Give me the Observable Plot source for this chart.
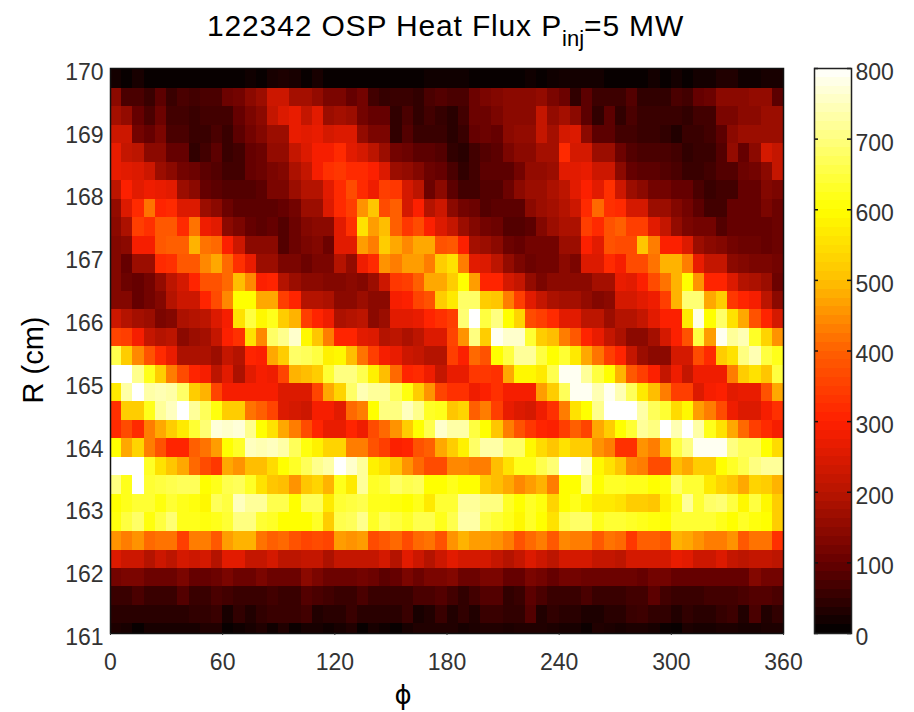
<!DOCTYPE html>
<html>
<head>
<meta charset="utf-8">
<script src="https://cdn.jsdelivr.net/npm/d3@7"></script>
<script src="https://cdn.jsdelivr.net/npm/@observablehq/plot@0.6"></script>
<style>
html,body{margin:0;padding:0;background:#fff;}
#wrap{position:relative;width:914px;height:712px;overflow:hidden;font-family:"Liberation Sans",sans-serif;}
#wrap svg{position:absolute;left:0;top:0;background:transparent;}
#title{position:absolute;left:207px;top:8px;font-size:30px;line-height:36px;letter-spacing:0.85px;color:#000;z-index:3;white-space:nowrap;}
#title sub{font-size:22px;line-height:0;letter-spacing:0;vertical-align:-10px;}
</style>
</head>
<body>
<div id="wrap"><div id="title">122342 OSP Heat Flux P<sub>inj</sub>=5 MW</div></div>
<script>
const xLabel = "ϕ", yLabel = "R (cm)";
const phiTicks = [0,60,120,180,240,300,360];
const rTicks = [161,162,163,164,165,166,167,168,169,170];
const barTicks = [0,100,200,300,400,500,600,700,800];
// Row edges in R (cm), top to bottom
const rEdges = [170,169.68,169.39,169.10,168.80,168.51,168.21,167.92,167.63,167.33,167.04,166.74,166.45,166.16,165.86,165.57,165.27,164.98,164.69,164.39,164.10,163.80,163.51,163.22,162.92,162.63,162.33,162.04,161.75,161.45,161.16,161];
const phiEdges = [0,6,12,18,24,30,36,42,48,54,60,66,72,78,84,90,96,102,108,114,120,126,132,138,144,150,156,162,168,174,180,186,192,198,204,210,216,222,228,234,240,246,252,258,264,270,276,282,288,294,300,306,312,318,324,330,336,342,348,354,360];
// Colour-read heat flux per row, top to bottom, 60 values by phi
const row00=[25,10,30,10,10,10,10,10,10,10,10,10,20,10,30,35,30,10,30,10,10,10,10,10,10,10,10,10,20,20,20,20,10,10,10,10,10,20,10,20,25,25,25,25,10,10,10,10,25,10,25,10,25,25,40,40,20,20,30,30];
const row01=[170,90,90,70,110,70,90,80,90,90,130,140,170,190,250,250,200,200,180,150,150,120,140,80,65,70,70,60,90,100,90,90,130,150,160,170,170,170,180,150,130,60,110,75,75,75,100,60,60,60,90,80,120,130,170,170,170,180,180,110];
const row02=[200,180,120,90,130,80,80,70,80,80,80,120,150,170,240,270,290,240,280,190,200,190,140,120,120,60,90,60,80,65,50,80,130,130,150,170,170,170,240,180,200,170,110,60,110,60,90,70,70,70,70,60,80,80,150,150,170,170,190,190];
const row03=[250,250,140,120,150,90,90,70,70,90,70,110,140,160,190,190,290,280,290,260,270,270,180,150,150,60,100,70,70,70,50,70,120,130,120,170,180,180,240,200,260,270,170,110,110,80,80,70,70,60,40,70,70,80,110,170,190,190,190,190];
const row04=[290,240,230,170,170,120,120,60,80,110,70,80,120,130,180,180,240,270,310,310,340,280,260,230,190,140,130,110,110,100,60,50,80,100,110,150,170,170,200,200,340,260,260,190,190,130,100,90,90,90,80,60,70,70,100,180,120,170,260,240];
const row05=[290,280,270,250,190,170,140,130,110,100,80,80,120,130,150,160,210,240,310,350,360,340,340,320,270,190,180,160,130,120,90,60,80,110,110,110,140,180,180,190,280,280,290,250,250,170,120,110,110,100,90,70,70,80,100,100,130,140,170,240];
const row06=[230,320,280,300,290,280,190,170,120,110,100,100,100,110,150,150,190,220,220,280,340,390,340,300,370,360,260,230,130,170,110,80,80,100,100,130,170,190,190,210,230,280,320,280,350,250,190,170,140,140,120,120,90,70,80,80,120,120,160,150];
const row07=[180,270,340,440,330,340,270,270,190,170,130,110,110,110,110,120,140,190,190,270,340,370,470,520,390,420,260,320,220,250,170,140,130,100,110,110,110,170,190,200,220,250,340,430,350,340,260,260,190,190,160,140,110,80,80,120,120,120,150,130];
const row08=[170,210,370,350,410,410,340,440,300,280,170,150,120,110,120,100,130,160,170,170,280,350,560,480,510,420,360,390,320,270,240,190,160,140,130,100,100,110,160,190,210,210,370,340,400,420,370,370,280,240,180,150,140,140,100,120,120,120,120,130];
const row09=[160,170,310,310,410,420,420,500,440,430,320,250,170,170,170,100,130,150,160,130,280,280,480,450,530,490,460,490,490,400,410,320,200,190,170,130,120,140,140,140,190,190,320,280,400,390,390,520,450,320,320,270,190,170,160,140,130,130,120,130];
const row10=[160,120,190,190,340,350,410,410,460,490,430,350,290,190,190,150,150,130,150,150,220,180,300,340,470,450,480,480,450,530,560,450,280,270,230,180,150,130,140,140,170,150,270,270,340,310,390,390,440,500,500,450,290,240,240,170,160,150,150,140];
const row11=[160,130,120,140,180,230,260,330,400,400,430,510,460,320,330,220,190,170,170,160,160,170,160,190,250,360,370,420,490,490,530,600,480,330,330,260,240,180,150,170,170,170,170,200,200,290,280,320,390,440,500,600,470,330,330,270,220,210,190,130];
const row12=[160,160,120,140,160,220,250,250,330,390,460,600,600,490,490,370,330,220,220,210,170,170,190,170,170,310,320,380,400,530,570,680,680,530,520,450,370,280,240,210,200,200,180,160,170,260,260,280,300,370,500,690,690,490,530,360,330,310,230,170];
const row13=[250,220,200,190,150,160,210,220,230,270,310,560,650,590,620,530,500,370,330,300,210,220,230,170,190,280,280,290,330,350,370,690,800,650,700,600,540,390,370,340,280,280,230,230,190,220,220,240,280,320,320,570,780,600,680,560,490,400,330,260];
const row14=[380,370,310,240,220,230,170,190,200,240,320,350,560,460,680,710,760,590,520,450,330,330,280,270,220,230,210,230,270,270,380,470,700,530,790,760,760,640,530,510,450,410,330,290,240,210,170,170,200,260,320,400,650,480,790,720,740,630,540,470];
const row15=[660,530,460,400,340,290,210,210,210,190,240,220,330,320,490,530,680,670,650,580,590,510,440,370,310,290,250,240,220,220,370,320,430,400,600,650,720,720,650,600,640,570,490,440,370,330,240,190,170,170,260,260,390,340,530,560,700,740,650,620];
const row16=[800,800,710,620,530,450,390,330,310,230,280,210,280,310,300,380,500,510,530,640,700,700,660,580,510,430,330,340,300,240,290,290,360,360,350,490,590,590,570,660,790,790,720,650,600,500,410,370,320,240,300,240,300,300,300,450,530,560,520,650];
const row17=[570,730,800,730,740,730,680,530,500,380,310,310,310,310,310,270,270,270,380,490,540,680,740,720,720,670,610,530,470,380,350,350,300,320,350,310,310,310,480,530,670,790,790,740,790,740,670,570,510,450,370,370,270,310,320,280,290,290,400,490];
const row18=[350,530,530,620,720,750,800,720,670,610,530,530,440,420,380,270,260,250,310,310,280,430,450,600,700,700,750,710,630,620,520,540,420,450,370,290,270,260,300,350,450,560,600,710,800,800,800,730,670,640,550,590,480,450,390,300,270,270,310,350];
const row19=[340,390,340,450,490,530,570,640,690,770,760,770,710,600,560,490,450,390,330,290,290,330,300,390,430,470,530,600,660,760,730,730,650,600,520,450,400,360,330,320,370,420,380,490,530,600,640,720,700,800,740,800,730,620,560,490,430,370,340,310];
const row20=[600,490,540,450,400,330,330,420,440,480,600,630,750,740,750,730,670,610,580,540,540,450,450,400,370,320,330,400,420,490,530,580,680,730,730,680,680,590,550,520,560,530,530,470,450,350,350,470,450,510,650,700,790,790,790,700,670,670,600,550];
const row21=[800,800,800,630,560,520,490,430,390,360,490,470,510,510,550,600,630,670,710,730,800,760,720,580,560,520,470,430,390,390,460,460,450,450,510,560,620,620,660,690,800,800,760,590,560,520,460,450,390,390,510,490,530,530,600,630,660,700,720,720];
const row22=[700,620,800,640,650,660,670,670,600,620,660,670,630,560,520,510,470,520,540,500,620,570,720,630,640,680,660,670,600,600,620,600,600,530,510,490,460,480,500,450,600,600,700,600,630,630,620,620,600,610,680,640,640,570,540,520,490,540,530,500];
const row23=[600,620,640,640,610,640,620,610,590,670,650,750,720,720,660,660,600,670,670,570,640,650,660,620,620,610,600,620,570,640,640,720,720,700,700,630,600,630,610,540,600,620,590,570,570,560,530,530,520,580,620,720,640,680,690,650,590,650,590,530];
const row24=[610,650,680,610,650,690,620,620,610,620,640,700,700,640,630,600,600,600,630,530,660,670,710,630,670,650,630,660,660,620,660,730,730,660,640,620,590,630,600,560,660,680,680,620,640,640,630,620,610,600,640,640,640,640,620,600,630,610,600,530];
const row25=[470,450,470,430,440,440,370,450,450,410,480,500,500,440,420,430,400,380,390,380,480,470,480,390,410,430,390,430,440,400,470,500,480,480,470,450,400,430,450,410,460,450,450,410,440,430,360,420,420,400,500,490,470,450,450,470,410,440,440,350];
const row26=[270,250,250,220,250,230,260,250,260,220,280,280,240,240,260,230,230,240,240,210,240,240,240,240,260,220,280,250,220,250,280,260,260,260,240,220,240,270,250,230,260,260,260,240,240,230,260,260,260,260,290,280,250,250,270,240,230,240,240,230];
const row27=[140,150,150,130,130,130,150,120,120,130,150,130,130,150,130,130,130,170,150,130,130,130,140,130,110,120,150,130,150,150,160,130,130,150,150,120,120,150,140,120,140,140,130,130,130,130,130,120,140,140,120,120,120,120,120,120,120,160,140,140];
const row28=[70,70,90,70,70,70,100,70,70,90,80,70,70,70,80,70,70,100,90,80,70,70,90,70,70,70,70,90,90,100,80,60,80,100,100,60,70,110,90,70,70,70,90,70,70,70,80,80,110,80,70,70,70,80,80,80,90,100,100,90];
const row29=[50,50,50,50,50,50,50,60,60,70,30,60,40,60,70,70,70,80,40,50,50,70,50,50,50,50,70,30,40,70,40,60,40,70,70,60,60,100,40,60,50,50,35,35,50,50,70,75,60,60,40,60,50,50,65,75,40,90,40,60];
const row30=[35,30,10,30,30,30,30,30,40,40,10,20,30,40,20,40,15,30,30,20,30,40,10,30,20,10,30,40,40,40,40,30,35,40,40,35,40,40,40,35,30,30,15,40,35,30,35,35,30,15,10,35,30,30,35,35,30,30,35,35];
const rows=[row00,row01,row02,row03,row04,row05,row06,row07,row08,row09,row10,row11,row12,row13,row14,row15,row16,row17,row18,row19,row20,row21,row22,row23,row24,row25,row26,row27,row28,row29,row30];
// My colour readings were biased against the colour bar; calibrate them onto its ticks
const readStops = [0,75,150,230,270,340,450,600,800];
const barStops  = [0,60,125,205,250,315,430,600,800];
const calibrate = d3.scaleLinear(readStops,barStops);

const cells = rows.flatMap((row,i)=>row.map((v,j)=>({x1:phiEdges[j],x2:phiEdges[j+1],y1:rEdges[i+1],y2:rEdges[i],v:calibrate(v)})));
const hot = {type:"linear",domain:[0,100,200,300,400,500,600,800],range:["#000000","#660000","#b81400","#ff2000","#ff6000","#ffc000","#ffff00","#ffffff"],interpolate:"rgb",clamp:true};
const tickFill = "#333";

const main = Plot.plot({
  width:914,height:712,marginLeft:110,marginRight:131,marginTop:68,marginBottom:79,
  style:{background:"transparent",fontFamily:"Liberation Sans, sans-serif"},
  x:{domain:[0,360]},y:{domain:[161,170]},color:hot,
  marks:[
    Plot.rect(cells,{x1:"x1",x2:"x2",y1:"y1",y2:"y2",fill:"v",shapeRendering:"crispEdges"}),
    Plot.frame({stroke:"#111",strokeWidth:1.5}),
    Plot.axisX({ticks:phiTicks,tickSize:2,tickPadding:18,fontSize:23,label:null,color:tickFill,tickFormat:d=>d}),
    Plot.axisY({ticks:rTicks,tickSize:0,tickPadding:7,fontSize:23,label:null,color:tickFill,tickFormat:d=>d,dy:4}),
    Plot.text([yLabel],{frameAnchor:"left",textAnchor:"middle",dx:-77,dy:9,rotate:-90,fontSize:29,fill:"#000"}),
    Plot.text([xLabel],{frameAnchor:"bottom",textAnchor:"middle",dx:-44,dy:70,fontSize:26,fill:"#000",fontFamily:"DejaVu Sans"})
  ]
});
document.getElementById("wrap").appendChild(main);

const barCells = d3.range(64).map(i=>({y1:i*12.5,y2:(i+1)*12.5,v:(i+0.5)*12.5}));
const bar = Plot.plot({
  width:914,height:712,marginLeft:814,marginRight:63,marginTop:68,marginBottom:79,
  style:{background:"transparent",fontFamily:"Liberation Sans, sans-serif"},
  y:{domain:[0,800]},color:hot,
  marks:[
    Plot.rect(barCells,{y1:"y1",y2:"y2",fill:"v",shapeRendering:"crispEdges"}),
    Plot.tickY(barTicks,{y:d=>d,stroke:"#111",insetRight:33,strokeWidth:1.5}),
    Plot.tickY(barTicks,{y:d=>d,stroke:"#111",insetLeft:33,strokeWidth:1.5}),
    Plot.frame({stroke:"#222",strokeWidth:1.5}),
    Plot.axisY({anchor:"right",ticks:barTicks,tickSize:0,tickPadding:4,fontSize:23,label:null,color:tickFill,tickFormat:d=>d,dy:4})
  ]
});
document.getElementById("wrap").appendChild(bar);
</script>
</body>
</html>
